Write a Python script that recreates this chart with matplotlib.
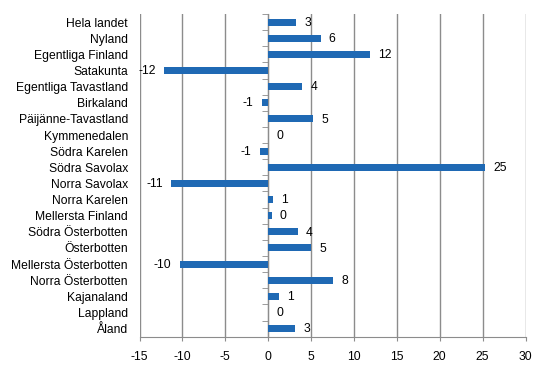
import matplotlib
matplotlib.use("Agg")
import matplotlib.pyplot as plt
import numpy as np
from matplotlib.ticker import FixedLocator

categories = ["Hela landet", "Nyland", "Egentliga Finland", "Satakunta",
              "Egentliga Tavastland", "Birkaland", "Päijänne-Tavastland",
              "Kymmenedalen", "Södra Karelen", "Södra Savolax", "Norra Savolax",
              "Norra Karelen", "Mellersta Finland", "Södra Österbotten",
              "Österbotten", "Mellersta Österbotten", "Norra Österbotten",
              "Kajanaland", "Lappland", "Åland"]
values = [3.3, 6.1, 11.85, -12.15, 4.0, -0.75, 5.2, 0.0, -0.97, 25.25, -11.3,
          0.55, 0.4, 3.45, 4.97, -10.3, 7.55, 1.25, 0.0, 3.1]
labels = ["3", "6", "12", "-12", "4", "-1", "5", "0", "-1", "25", "-11",
          "1", "0", "4", "5", "-10", "8", "1", "0", "3"]
xticks = [-15, -10, -5, 0, 5, 10, 15, 20, 25, 30]

plt.rcParams['font.family'] = ['Liberation Sans', 'DejaVu Sans']
fig = plt.figure(figsize=(5.46, 3.76), dpi=100)
ax = fig.add_axes([0.2555, 0.1045, 0.9625 - 0.2555, 0.9628 - 0.1045])

y = np.arange(len(categories))
ax.barh(y, values, height=0.43, color="#1F69B4", zorder=3)

grey = "#8C8C8C"
ax.set_xlim(-15, 30)
ax.set_ylim(len(categories) - 0.5, -0.5)
ax.set_xticks(xticks)
ax.set_xticklabels([str(t) for t in xticks])
ax.grid(axis="x", color=grey, linewidth=1.0, zorder=0)
ax.set_axisbelow(True)

for s in ["top", "right"]:
    ax.spines[s].set_visible(False)
ax.spines["left"].set_position(("data", 0))
ax.spines["left"].set_color(grey)
ax.spines["left"].set_zorder(2.5)
ax.spines["bottom"].set_color(grey)

ax.set_yticks(y)
ax.set_yticklabels(categories)
ax.yaxis.set_minor_locator(FixedLocator(np.arange(len(categories) + 1) - 0.5))
ax.tick_params(axis="y", which="major", length=0, pad=101, labelsize=8.7)
ax.tick_params(axis="y", which="minor", length=4, color=grey, direction="out")
ax.tick_params(axis="x", length=3, color=grey, labelsize=8.7, pad=7)

for yi, v, lab in zip(y, values, labels):
    if v < 0:
        ax.annotate(lab, (v, yi), xytext=(-6, -0.5), textcoords="offset points",
                    ha="right", va="center", fontsize=8.7)
    else:
        ax.annotate(lab, (v, yi), xytext=(6, -0.5), textcoords="offset points",
                    ha="left", va="center", fontsize=8.7)

fig.savefig("out.png", dpi=100)
